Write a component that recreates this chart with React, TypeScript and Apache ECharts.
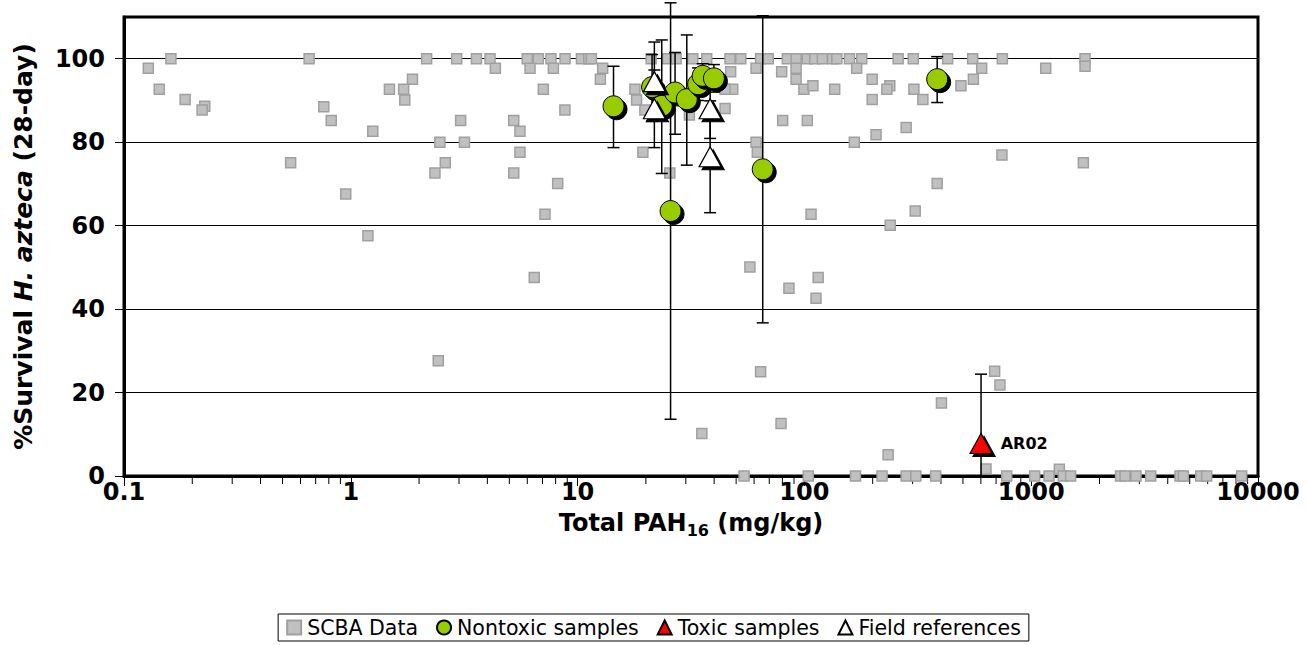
import React, { useEffect, useRef } from 'react';
import * as echarts from 'echarts';

// ---- Data (x = Total PAH16 mg/kg, y = % survival) ----
const scbaPoints: number[][] = [
  [0.128, 97.7], [0.161, 100], [0.143, 92.7], [0.186, 90.2], [0.227, 88.6], [0.221, 87.7],
  [0.655, 100], [0.76, 88.5], [0.82, 85.2], [0.543, 75.1], [0.95, 67.6],
  [2.16, 100], [2.93, 100], [3.58, 100], [4.11, 100], [4.34, 97.7], [6.0, 100], [6.71, 100],
  [6.17, 97.7], [7.63, 100], [7.82, 97.7], [8.8, 100], [10.4, 100], [11.2, 100], [1.87, 95.1],
  [1.48, 92.7], [1.71, 92.7], [1.73, 90.1], [7.06, 92.7], [8.79, 87.7], [3.05, 85.2], [5.23, 85.2],
  [5.57, 82.6], [1.25, 82.6], [2.47, 80], [3.17, 80], [5.57, 77.6], [2.61, 75.1], [2.35, 72.6],
  [5.23, 72.6], [8.17, 70.1], [7.18, 62.7], [1.19, 57.6],
  [11.5, 100], [12.9, 97.7], [12.6, 95.1], [17.9, 92.7], [18.2, 90.1], [19.8, 87.7], [19.4, 77.6],
  [21.1, 100], [24.9, 100], [27.2, 100], [32.2, 100], [37.1, 100], [47, 100], [52.4, 100],
  [64.1, 100], [69.3, 100], [84.1, 100], [91.9, 100], [103, 100], [47.3, 96.9], [61.2, 97.7],
  [79.4, 96.9], [91.9, 97.7], [91.9, 95.1], [99.5, 92.7], [48.3, 92.7], [44.7, 92.7], [44.7, 88.1],
  [80.2, 85.2], [103, 85.2], [31.1, 86.5], [61.2, 80], [62, 77.6], [25.5, 72.6], [107, 62.7],
  [111, 100], [120, 100], [133, 100], [139, 100], [158, 100], [179, 100], [259, 100], [302, 100],
  [428, 100], [552, 100], [746, 100], [170, 97.7], [605, 97.7], [199, 95.1], [556, 95.1],
  [109, 93.5], [136, 92.7], [238, 93.5], [231, 92.7], [304, 92.7], [490, 93.5], [199, 90.2],
  [333, 90.2], [281, 83.5], [207, 81.8], [166, 80], [743, 76.9], [385, 70.1], [308, 63.5], [239, 60.1],
  [1159, 97.7], [1727, 100], [1727, 98.2], [1698, 75.1],
  [6.44, 47.6], [2.43, 27.6],
  [57.5, 50.1], [85.5, 45.0], [64.1, 25.0], [78.9, 12.6], [35.3, 10.2], [54.2, 0], [104, 0],
  [115, 47.6], [112.5, 42.6], [690, 25.1], [728, 21.8], [402, 17.5], [234, 5.1], [632, 1.7],
  [168, 0], [220, 0], [281, 0], [310, 0], [379, 0], [780, 0], [1036, 0],
  [1199, 0], [1331, 1.6], [1385, 0], [1492, 0], [2477, 0], [2594, 0], [2897, 0], [3363, 0],
  [4530, 0], [4686, 0], [5590, 0], [5940, 0], [8470, 0],
];

// [x, y, low, high]
const nontoxicPoints: number[][] = [
  [14.4, 88.6, 78.7, 98.2],
  [21.3, 93.2, 85, 101],
  [23.5, 88.7, 72.5, 104.5],
  [25.7, 63.5, 13.6, 113.4],
  [26.9, 91.9, 81.9, 101.5],
  [30.3, 90.3, 74.5, 105.7],
  [34.0, 93.9, 90, 97.8],
  [35.6, 95.9, 93, 98.8],
  [39.9, 95.3, 92, 98.6],
  [65.5, 73.5, 36.7, 110.3],
  [385, 95.1, 89.5, 100.5],
];

const toxicPoints: number[][] = [[601, 7.8, -8.8, 24.4]];
const toxicLabels: string[] = ['AR02'];

const fieldRefPoints: number[][] = [
  [21.8, 94.5, 86, 104],
  [21.8, 88, 78.7, 97.3],
  [38.4, 88, 80.9, 95.1],
  [38.4, 76.5, 63.1, 89.9],
];

const xTickLabels: string[] = ['0.1', '1', '10', '100', '1000', '10000'];
const legendNames: string[] = ['SCBA Data', 'Nontoxic samples', 'Toxic samples', 'Field references'];

// minor tick positions of the log axis (2..9 in each decade)
const minorTickValues: number[] = [];
for (let d = -1; d < 4; d++) {
  for (let k = 2; k <= 9; k++) minorTickValues.push(k * Math.pow(10, d));
}

const FONT = '"DejaVu Sans", Arial, sans-serif';

const shadow = { shadowColor: '#000', shadowBlur: 0, shadowOffsetX: 3, shadowOffsetY: 3 };

function errorBarItem(params: any, api: any) {
  const x = api.value(0);
  const lo = api.value(2);
  const hi = api.value(3);
  const pHi = api.coord([x, hi]);
  const pLo = api.coord([x, Math.max(lo, 0)]);
  const cw = 6;
  const style = { stroke: '#000', lineWidth: 1.5 };
  const children: any[] = [
    { type: 'line', shape: { x1: pHi[0], y1: pHi[1], x2: pLo[0], y2: pLo[1] }, style },
    { type: 'line', shape: { x1: pHi[0] - cw, y1: pHi[1], x2: pHi[0] + cw, y2: pHi[1] }, style },
  ];
  if (lo >= 0) {
    children.push({ type: 'line', shape: { x1: pLo[0] - cw, y1: pLo[1], x2: pLo[0] + cw, y2: pLo[1] }, style });
  }
  return { type: 'group', children };
}

function minorTickItem(params: any, api: any) {
  const p = api.coord([api.value(0), 0]);
  return {
    type: 'line',
    shape: { x1: p[0], y1: p[1], x2: p[0], y2: p[1] + 8 },
    style: { stroke: '#000', lineWidth: 1 },
  };
}

export default function App() {
  const ref = useRef<HTMLDivElement>(null);
  useEffect(() => {
    document.body.style.margin = '0';
    const chart = echarts.init(ref.current!, null, { renderer: 'svg' });
    const option: any = {
      animation: false,
      backgroundColor: '#fff',
      textStyle: { fontFamily: FONT },
      grid: {
        left: 124, right: 49, top: 17, bottom: 169,
        show: true, borderColor: '#000', borderWidth: 3, backgroundColor: 'transparent',
      },
      xAxis: {
        type: 'log', logBase: 10, min: 0.1, max: 10000, splitNumber: 5,
        axisLine: { show: true, lineStyle: { color: '#000', width: 3 } },
        axisTick: { show: true, length: 10, lineStyle: { color: '#000', width: 1 } },
        splitLine: { show: false },
        axisLabel: {
          color: '#000', fontSize: 24, fontWeight: 'bold', fontFamily: FONT, margin: 4,
          formatter: (v: number) => xTickLabels[Math.round(Math.log10(v)) + 1] ?? '',
        },
        name: '{b|Total PAH}{s|16}{b| (mg/kg)}',
        nameLocation: 'middle', nameGap: 32,
        nameTextStyle: {
          rich: {
            b: { fontSize: 24, fontWeight: 'bold', fontFamily: FONT, color: '#000', lineHeight: 30 },
            s: { fontSize: 16, fontWeight: 'bold', fontFamily: FONT, color: '#000', lineHeight: 16, verticalAlign: 'bottom' },
          },
        },
      },
      yAxis: {
        type: 'value', min: 0, max: 110, interval: 20,
        axisLine: { show: true, lineStyle: { color: '#000', width: 3 } },
        axisTick: { show: true, length: 9, lineStyle: { color: '#000', width: 1 } },
        splitLine: { show: true, lineStyle: { color: '#000', width: 1 } },
        axisLabel: {
          color: '#000', fontSize: 24, fontWeight: 'bold', fontFamily: FONT, margin: 19, showMaxLabel: false,
        },
        name: '{b|%Survival }{i|H. azteca}{b| (28-day)}',
        nameLocation: 'middle', nameGap: 88, nameRotate: 90,
        nameTextStyle: {
          rich: {
            b: { fontSize: 25, fontWeight: 'bold', fontFamily: FONT, color: '#000' },
            i: { fontSize: 25, fontWeight: 'bold', fontStyle: 'italic', fontFamily: FONT, color: '#000' },
          },
        },
      },
      legend: {
        data: legendNames,
        bottom: 4, left: 'center',
        orient: 'horizontal',
        borderColor: '#000', borderWidth: 1, borderRadius: 0,
        padding: [3, 8, 3, 8],
        itemWidth: 14, itemHeight: 14, itemGap: 18,
        textStyle: { fontSize: 20.5, color: '#000', fontFamily: FONT, padding: [0, 0, 0, 1] },
        itemStyle: { shadowColor: 'transparent', shadowOffsetX: 0, shadowOffsetY: 0 },
      },
      series: [
        {
          name: 'SCBA Data', type: 'scatter', data: scbaPoints, z: 2,
          symbol: 'rect', symbolSize: 10,
          itemStyle: { color: '#C0C0C0', borderColor: '#A0A0A0', borderWidth: 1.5, opacity: 1 },
        },
        {
          name: 'minorTicks', type: 'custom', data: minorTickValues.map((v) => [v]),
          renderItem: minorTickItem, z: 1, silent: true, clip: false,
        },
        {
          name: 'errNontoxic', type: 'custom', data: nontoxicPoints,
          renderItem: errorBarItem, z: 3, silent: true, clip: false,
        },
        {
          name: 'errField', type: 'custom', data: fieldRefPoints,
          renderItem: errorBarItem, z: 3, silent: true, clip: false,
        },
        {
          name: 'errToxic', type: 'custom', data: toxicPoints,
          renderItem: errorBarItem, z: 3, silent: true, clip: false,
        },
        {
          name: 'Nontoxic samples', type: 'scatter', z: 4,
          data: nontoxicPoints.map((p) => [p[0], p[1]]),
          symbol: 'circle', symbolSize: 21,
          itemStyle: { color: '#99CC00', borderColor: '#000', borderWidth: 1, opacity: 1, ...shadow },
        },
        {
          name: 'Field references', type: 'scatter', z: 5,
          data: fieldRefPoints.map((p) => [p[0], p[1]]),
          symbol: 'triangle', symbolSize: [22, 20],
          itemStyle: { color: '#FFFFFF', borderColor: '#000', borderWidth: 1.2, opacity: 1, ...shadow },
        },
        {
          name: 'Toxic samples', type: 'scatter', z: 5,
          data: toxicPoints.map((p, i) => ({ value: [p[0], p[1]], label: toxicLabels[i] })),
          symbol: 'triangle', symbolSize: [22, 20],
          itemStyle: { color: '#FF0000', borderColor: '#000', borderWidth: 1.2, opacity: 1, ...shadow },
          label: {
            show: true, position: 'right', distance: 8,
            formatter: (p: any) => p.data.label,
            fontSize: 16, fontWeight: 'bold', color: '#000', fontFamily: FONT,
          },
        },
      ],
    };
    chart.setOption(option);
    return () => chart.dispose();
  }, []);
  return <div ref={ref} style={{ width: 1307, height: 645 }} />;
}
